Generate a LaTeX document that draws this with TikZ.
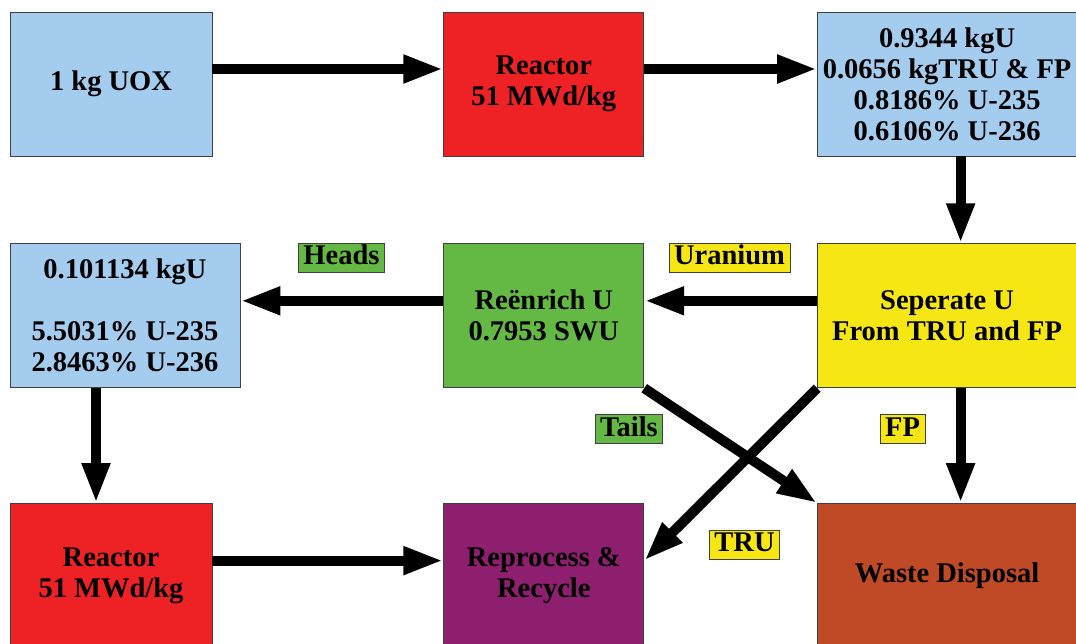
\documentclass[tikz,border=0pt]{standalone}
\usepackage{fontspec}
\setmainfont{Liberation Serif}
\usepackage{tikz}
\usetikzlibrary{arrows.meta,positioning}

\definecolor{fuelblue}{HTML}{A3CCEE}
\definecolor{reactred}{HTML}{EE2224}
\definecolor{enrgreen}{HTML}{64B944}
\definecolor{sepyellow}{HTML}{F5E614}
\definecolor{recpurple}{HTML}{8E1F6E}
\definecolor{wasterust}{HTML}{C04A25}

\begin{document}
\begin{tikzpicture}[x=1pt, y=-1pt, ->, >={Triangle[length=40pt,width=26pt]},
    line width=10pt,
    stage/.style={draw=black!75, line width=0.8pt, minimum width=200pt,
        minimum height=144pt, inner sep=0pt, align=center,
        font=\bfseries\fontsize{28.5}{31}\selectfont},
    flowtag/.style={draw=black!75, line width=0.8pt, inner xsep=5pt, inner ysep=0pt,
        minimum height=29pt, text height=19pt, text depth=5pt,
        font=\bfseries\fontsize{28.5}{31}\selectfont}
    ]
\useasboundingbox (0,0) rectangle (1076,643);
% first pass
\node[stage, fill=fuelblue, minimum width=202pt] (uox) at (111,84) {1 kg UOX};
\node[stage, fill=reactred] (reactorA) [right=231pt of uox] {Reactor\\51 MWd/kg};
\node[stage, fill=fuelblue, minimum width=259pt] (spent) [right=173pt of reactorA]
    {0.9344 kgU\\0.0656 kgTRU \& FP\\0.8186\% U-235\\0.6106\% U-236};
% separation and re-enrichment
\node[stage, fill=sepyellow, minimum width=259pt] (separate) [below=87pt of spent]
    {Seperate U\\From TRU and FP};
\node[stage, fill=enrgreen] (reenrich) [below=87pt of reactorA] {Reënrich U\\0.7953 SWU};
\node[stage, fill=fuelblue, minimum width=230pt] (enriched) [left=203pt of reenrich]
    {0.101134 kgU\\~\\5.5031\% U-235\\2.8463\% U-236};
% second pass
\node[stage, fill=wasterust, minimum width=259pt] (waste) [below=115pt of separate] {Waste Disposal};
\node[stage, fill=recpurple] (reprocess) [below=115pt of reenrich] {Reprocess \&\\Recycle};
\node[stage, fill=reactred, minimum width=202pt] (reactorB) [left=231pt of reprocess] {Reactor\\51 MWd/kg};

\path
([yshift=15pt]uox.east)      edge ([yshift=15pt]reactorA.west)
([yshift=15pt]reactorA.east) edge ([yshift=15pt]spent.west)
([xshift=13.5pt]spent.south) edge ([xshift=13.5pt]separate.north)
([yshift=15pt]separate.west) edge ([yshift=15pt]reenrich.east)
([yshift=15pt]reenrich.west) edge ([yshift=15pt]enriched.east)
([xshift=-29pt]enriched.south) edge ([xshift=-15pt]reactorB.north)
([yshift=15pt]reactorB.east) edge ([yshift=15pt]reprocess.west)
(reenrich.south east)        edge (waste.north west)
(separate.south west)        edge ([yshift=15pt]reprocess.east)
([xshift=13.5pt]separate.south) edge ([xshift=13.5pt]waste.north)
;

% stream tags
\node[flowtag, fill=enrgreen] (heads) at (341.5,257.5) {Heads};
\node[flowtag, fill=sepyellow] (uranium) at (729.5,257.5) {Uranium};
\node[flowtag, fill=enrgreen] (tails) at (629,429) {Tails};
\node[flowtag, fill=sepyellow] (fp) at (902.5,429) {FP};
\node[flowtag, fill=sepyellow] (tru) at (744.5,544.5) {TRU};
\end{tikzpicture}
\end{document}
